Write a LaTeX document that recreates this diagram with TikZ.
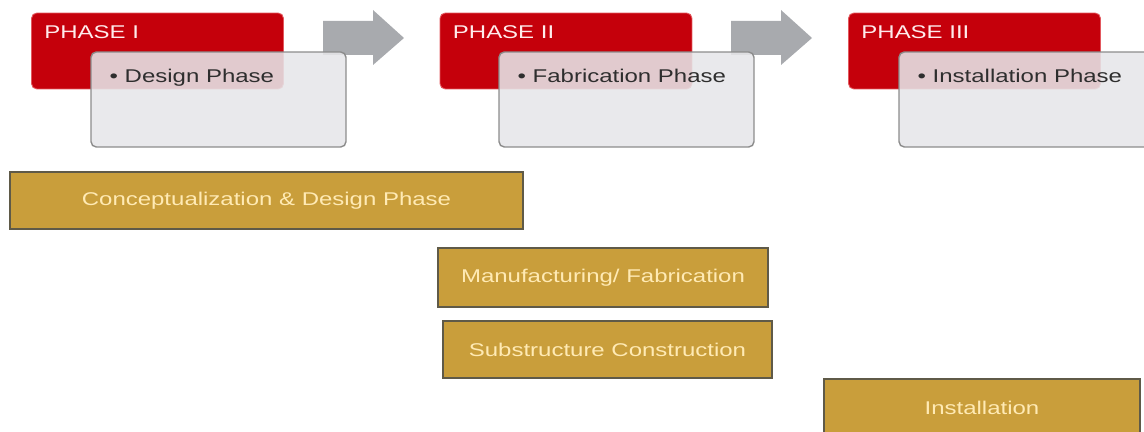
\documentclass[tikz,border=0pt]{standalone}
\usepackage{fontspec}
\setmainfont[FakeStretch=1.3]{Liberation Sans}
\usepackage{tikz}
\usetikzlibrary{calc}
\definecolor{phasered}{HTML}{C5000B}
\definecolor{phaseedge}{HTML}{E2585E}
\definecolor{boxgrey}{HTML}{E6E6E9}
\definecolor{boxedge}{HTML}{8C8C8C}
\definecolor{arrowgrey}{HTML}{A8AAAE}
\definecolor{bargold}{HTML}{C99E3B}
\definecolor{barline}{HTML}{5F5A48}
\definecolor{bartext}{HTML}{FFEAB4}

\begin{document}
\begin{tikzpicture}[x=0.02cm, y=-0.02cm,
  every node/.style={font=\fontsize{10.5}{12}\selectfont, inner sep=0pt},
  phasebox/.style={draw=phaseedge, line width=0.5pt, fill=phasered, rounded corners=3pt, minimum width=5.04cm, minimum height=1.52cm},
  notebox/.style={draw=boxedge, line width=0.8pt, fill=boxgrey, fill opacity=0.88, rounded corners=3pt, minimum width=5.1cm, minimum height=1.9cm},
  phaselabel/.style={text=white!92!red, anchor=base west},
  notelabel/.style={text=black!82, anchor=base west},
  taskbar/.style={draw=barline, line width=0.9pt, fill=bargold, text=bartext},
  blockarrow/.style={fill=arrowgrey}]
  \useasboundingbox (0,0) rectangle (1144,432);

  \node[phasebox] (ph1) at (157.5,51) {};
  \node[phasebox] (ph2) at (566,51) {};
  \node[phasebox] (ph3) at (974.5,51) {};
  \node[phaselabel] (ph1lbl) at ($(ph1.north west)+(13,26)$) {PHASE I};
  \node[phaselabel] (ph2lbl) at ($(ph2.north west)+(13,26)$) {PHASE II};
  \node[phaselabel] (ph3lbl) at ($(ph3.north west)+(13,26)$) {PHASE III};

  \fill[blockarrow] (323,21) -- (373,21) -- (373,10) -- (404,38) -- (373,65) -- (373,55) -- (323,55) -- cycle;
  \fill[blockarrow] (731,21) -- (781,21) -- (781,10) -- (812,38) -- (781,65) -- (781,55) -- (731,55) -- cycle;

  \node[notebox] (nt1) at (218.5,99.5) {};
  \node[notebox] (nt2) at (626.5,99.5) {};
  \node[notebox] (nt3) at (1026.5,99.5) {};
  \node[notelabel] (nt1lbl) at ($(nt1.north west)+(19,31)$) {• Design Phase};
  \node[notelabel] (nt2lbl) at ($(nt2.north west)+(19,31)$) {• Fabrication Phase};
  \node[notelabel] (nt3lbl) at ($(nt3.north west)+(19,31)$) {• Installation Phase};

  \node[taskbar, minimum width=10.26cm, minimum height=1.14cm] (concept) at (266.5,200.5) {Conceptualization \& Design Phase};
  \node[taskbar, minimum width=6.6cm, minimum height=1.18cm] (fab) at (603,277.5) {Manufacturing/ Fabrication};
  \node[taskbar, minimum width=6.58cm, minimum height=1.14cm] (sub) at (607.5,349.5) {Substructure Construction};
  \node[taskbar, minimum width=6.32cm, minimum height=1.14cm] (inst) at (982,407.5) {Installation};
\end{tikzpicture}
\end{document}
